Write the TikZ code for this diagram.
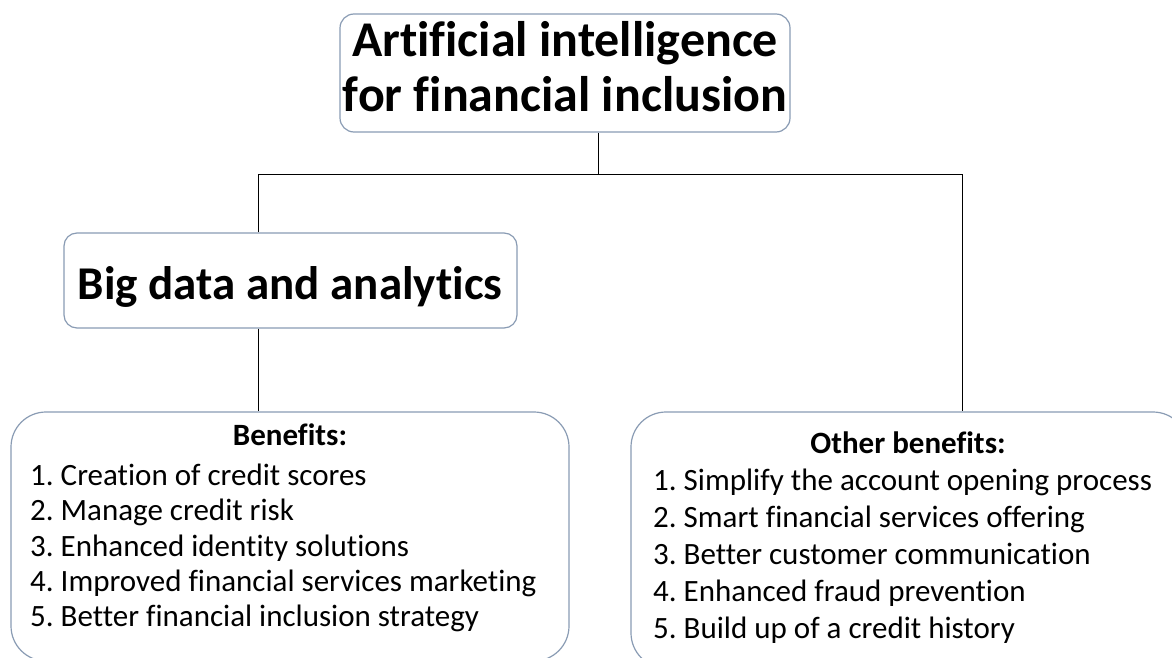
\documentclass[tikz,border=0pt]{standalone}
\usepackage{fontspec}
\setmainfont[Ligatures=NoCommon]{Carlito}
\definecolor{boxc}{RGB}{138,156,180}
\frenchspacing
\begin{document}
\begin{tikzpicture}[x=1pt,y=-1pt,
  box/.style={draw=boxc, line width=1.2pt, rounded corners=#1, inner sep=0pt, fill=white},
  conn/.style={draw=black, line width=1pt},
  titletxt/.style={font=\fontsize{50}{55}\selectfont\bfseries, inner sep=0pt, anchor=base},
  bigtxt/.style={font=\fontsize{47}{55}\selectfont\bfseries, inner sep=0pt, anchor=base},
  head/.style={font=\fontsize{31}{37}\selectfont\bfseries, anchor=base, inner sep=0pt},
  item/.style={font=\fontsize{31}{37}\selectfont, anchor=base west, inner sep=0pt}]
\clip (0,0) rectangle (1172,658);
\useasboundingbox (0,0) rectangle (1172,658);
\fill[white] (0,0) rectangle (1172,658);

% boxes
\node[box=14pt, minimum width=450pt, minimum height=118pt] (top) at (565,73) {};
\node[box=13pt, minimum width=453pt, minimum height=95pt] (bd) at (290.5,280.5) {};
\node[box=35pt, minimum width=558pt, minimum height=249pt] (lb) at (290,536.5) {};
\node[box=35pt, minimum width=557pt, minimum height=256pt] (rb) at (909.5,540) {};

% texts
\node[titletxt] (t1) at (565,57) {Artificial intelligence};
\node[titletxt] (t2) at (565,112) {for financial inclusion};
\node[bigtxt] (bdt) at (290,299) {Big data and analytics};

\node[head] (lh) at (290,445) {Benefits:};
\node[item] (l1) at (30,485) {1. Creation of credit scores};
\node[item] (l2) at (30,520) {2. Manage credit risk};
\node[item] (l3) at (30,556) {3. Enhanced identity solutions};
\node[item] (l4) at (30,591) {4. Improved financial services marketing};
\node[item] (l5) at (30,626) {5. Better financial inclusion strategy};

\node[head] (rh) at (908,453) {Other benefits:};
\node[item] (r1) at (653,490) {1. Simplify the account opening process};
\node[item] (r2) at (653,527) {2. Smart financial services offering};
\node[item] (r3) at (653,564) {3. Better customer communication};
\node[item] (r4) at (653,601) {4. Enhanced fraud prevention};
\node[item] (r5) at (653,638) {5. Build up of a credit history};

% connectors
\coordinate (jt) at (598,174);
\coordinate (jl) at (258,174);
\coordinate (jr) at (962,174);
\draw[conn] (jt |- top.south) -- (jt);
\draw[conn] (jl |- bd.north) -- (jl) -- (jr) -- (jr |- rb.north);
\draw[conn] (jl |- bd.south) -- (jl |- lb.north);
\end{tikzpicture}
\end{document}
